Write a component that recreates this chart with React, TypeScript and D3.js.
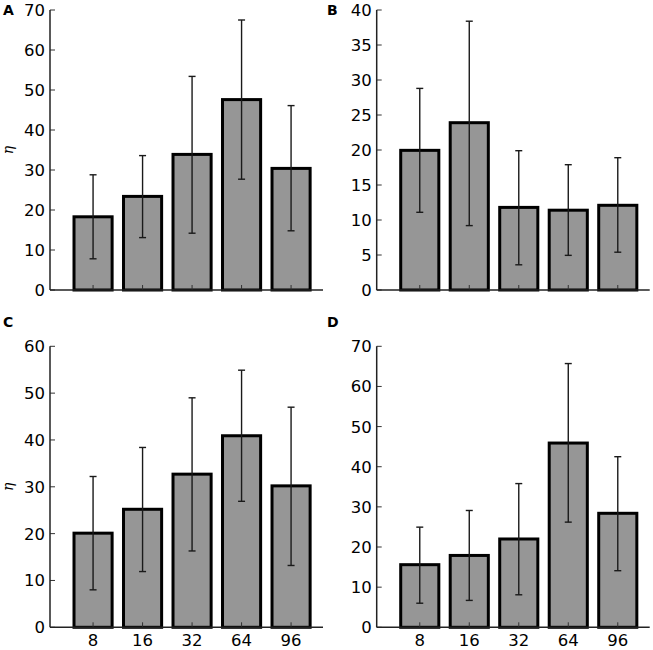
import React from "react";
import * as d3 from "d3";

const categories = ["8", "16", "32", "64", "96"];

const meansA = [18.3, 23.4, 33.9, 47.6, 30.4];
const upperA = [28.8, 33.6, 53.4, 67.5, 46.1];
const lowerA = [7.8, 13.1, 14.2, 27.7, 14.8];

const meansB = [19.95, 23.9, 11.8, 11.4, 12.1];
const upperB = [28.8, 38.4, 19.9, 17.9, 18.9];
const lowerB = [11.1, 9.2, 3.6, 4.95, 5.4];

const meansC = [20.1, 25.2, 32.7, 40.9, 30.2];
const upperC = [32.2, 38.4, 49.0, 54.9, 47.0];
const lowerC = [8.0, 11.9, 16.3, 26.9, 13.2];

const meansD = [15.6, 17.9, 22.0, 45.9, 28.4];
const upperD = [24.95, 29.1, 35.8, 65.7, 42.5];
const lowerD = [6.0, 6.7, 8.1, 26.2, 14.1];

const ticksA = [0, 10, 20, 30, 40, 50, 60, 70];
const ticksB = [0, 5, 10, 15, 20, 25, 30, 35, 40];
const ticksC = [0, 10, 20, 30, 40, 50, 60];
const ticksD = [0, 10, 20, 30, 40, 50, 60, 70];

const FONT = "DejaVu Sans, sans-serif";

type PanelProps = {
  letter: string;
  means: number[];
  upper: number[];
  lower: number[];
  ticks: number[];
  yMax: number;
  left: number;
  top: number;
  bottom: number;
  letterX: number;
  letterY: number;
  showEta: boolean;
  showXLabels: boolean;
};

function Panel(p: PanelProps) {
  const width = 273;
  const x = d3.scaleLinear().domain([-0.87, 4.645]).range([p.left, p.left + width]);
  const y = d3.scaleLinear().domain([0, p.yMax]).range([p.bottom, p.top]);
  const bw = 0.77;
  const capHalf = 3.5;
  return (
    <g>
      <text x={p.letterX} y={p.letterY} fontFamily={FONT} fontWeight="bold" fontSize={14} fill="#000">
        {p.letter}
      </text>
      {p.means.map((m, i) => (
        <rect
          key={"b" + i}
          x={x(i - bw / 2)}
          y={y(m)}
          width={x(i + bw / 2) - x(i - bw / 2)}
          height={y(0) - y(m)}
          fill="#969696"
          stroke="#000"
          strokeWidth={3}
        />
      ))}
      {p.means.map((m, i) => (
        <g key={"e" + i} stroke="#1a1a1a" strokeWidth={1.4}>
          <line x1={x(i)} x2={x(i)} y1={y(p.upper[i])} y2={y(p.lower[i])} />
          <line x1={x(i) - capHalf} x2={x(i) + capHalf} y1={y(p.upper[i])} y2={y(p.upper[i])} />
          <line x1={x(i) - capHalf} x2={x(i) + capHalf} y1={y(p.lower[i])} y2={y(p.lower[i])} />
        </g>
      ))}
      {categories.map((c, i) => (
        <line key={"xt" + i} x1={x(i)} x2={x(i)} y1={y(0)} y2={y(0) - 5} stroke="#333" strokeWidth={1} />
      ))}
      {p.ticks.map((t) => (
        <g key={"yt" + t}>
          <line x1={p.left} x2={p.left + 5} y1={y(t)} y2={y(t)} stroke="#333" strokeWidth={1} />
          <text
            x={p.left - 5}
            y={y(t)}
            dy="0.36em"
            textAnchor="end"
            fontFamily={FONT}
            fontSize={16.5}
            fill="#000"
          >
            {t}
          </text>
        </g>
      ))}
      <line x1={p.left} x2={p.left} y1={p.top} y2={p.bottom} stroke="#222" strokeWidth={1.5} />
      <line x1={p.left} x2={p.left + width} y1={p.bottom} y2={p.bottom} stroke="#222" strokeWidth={1.5} />
      {p.showXLabels &&
        categories.map((c, i) => (
          <text key={"xl" + i} x={x(i)} y={p.bottom + 19} textAnchor="middle" fontFamily={FONT} fontSize={16.5} fill="#000">
            {c}
          </text>
        ))}
      {p.showEta && (
        <text
          transform={`translate(13,${(p.top + p.bottom) / 2}) rotate(-90)`}
          textAnchor="middle"
          fontFamily="DejaVu Serif, serif"
          fontStyle="italic"
          fontSize={14}
          fill="#000"
        >
          η
        </text>
      )}
    </g>
  );
}

export default function App() {
  return (
    <svg width={653} height={650} style={{ position: "absolute", left: 0, top: 0, background: "#fff" }}>
      <rect x={0} y={0} width={653} height={650} fill="#fff" />
      <Panel letter="A" means={meansA} upper={upperA} lower={lowerA} ticks={ticksA} yMax={70}
        left={50} top={10} bottom={290} letterX={3} letterY={15} showEta showXLabels={false} />
      <Panel letter="B" means={meansB} upper={upperB} lower={lowerB} ticks={ticksB} yMax={40}
        left={376.7} top={10} bottom={290} letterX={327} letterY={15} showEta={false} showXLabels={false} />
      <Panel letter="C" means={meansC} upper={upperC} lower={lowerC} ticks={ticksC} yMax={60}
        left={50} top={346.3} bottom={627.3} letterX={3} letterY={327} showEta showXLabels />
      <Panel letter="D" means={meansD} upper={upperD} lower={lowerD} ticks={ticksD} yMax={70}
        left={376.7} top={346.3} bottom={627.3} letterX={327} letterY={327} showEta={false} showXLabels />
    </svg>
  );
}
